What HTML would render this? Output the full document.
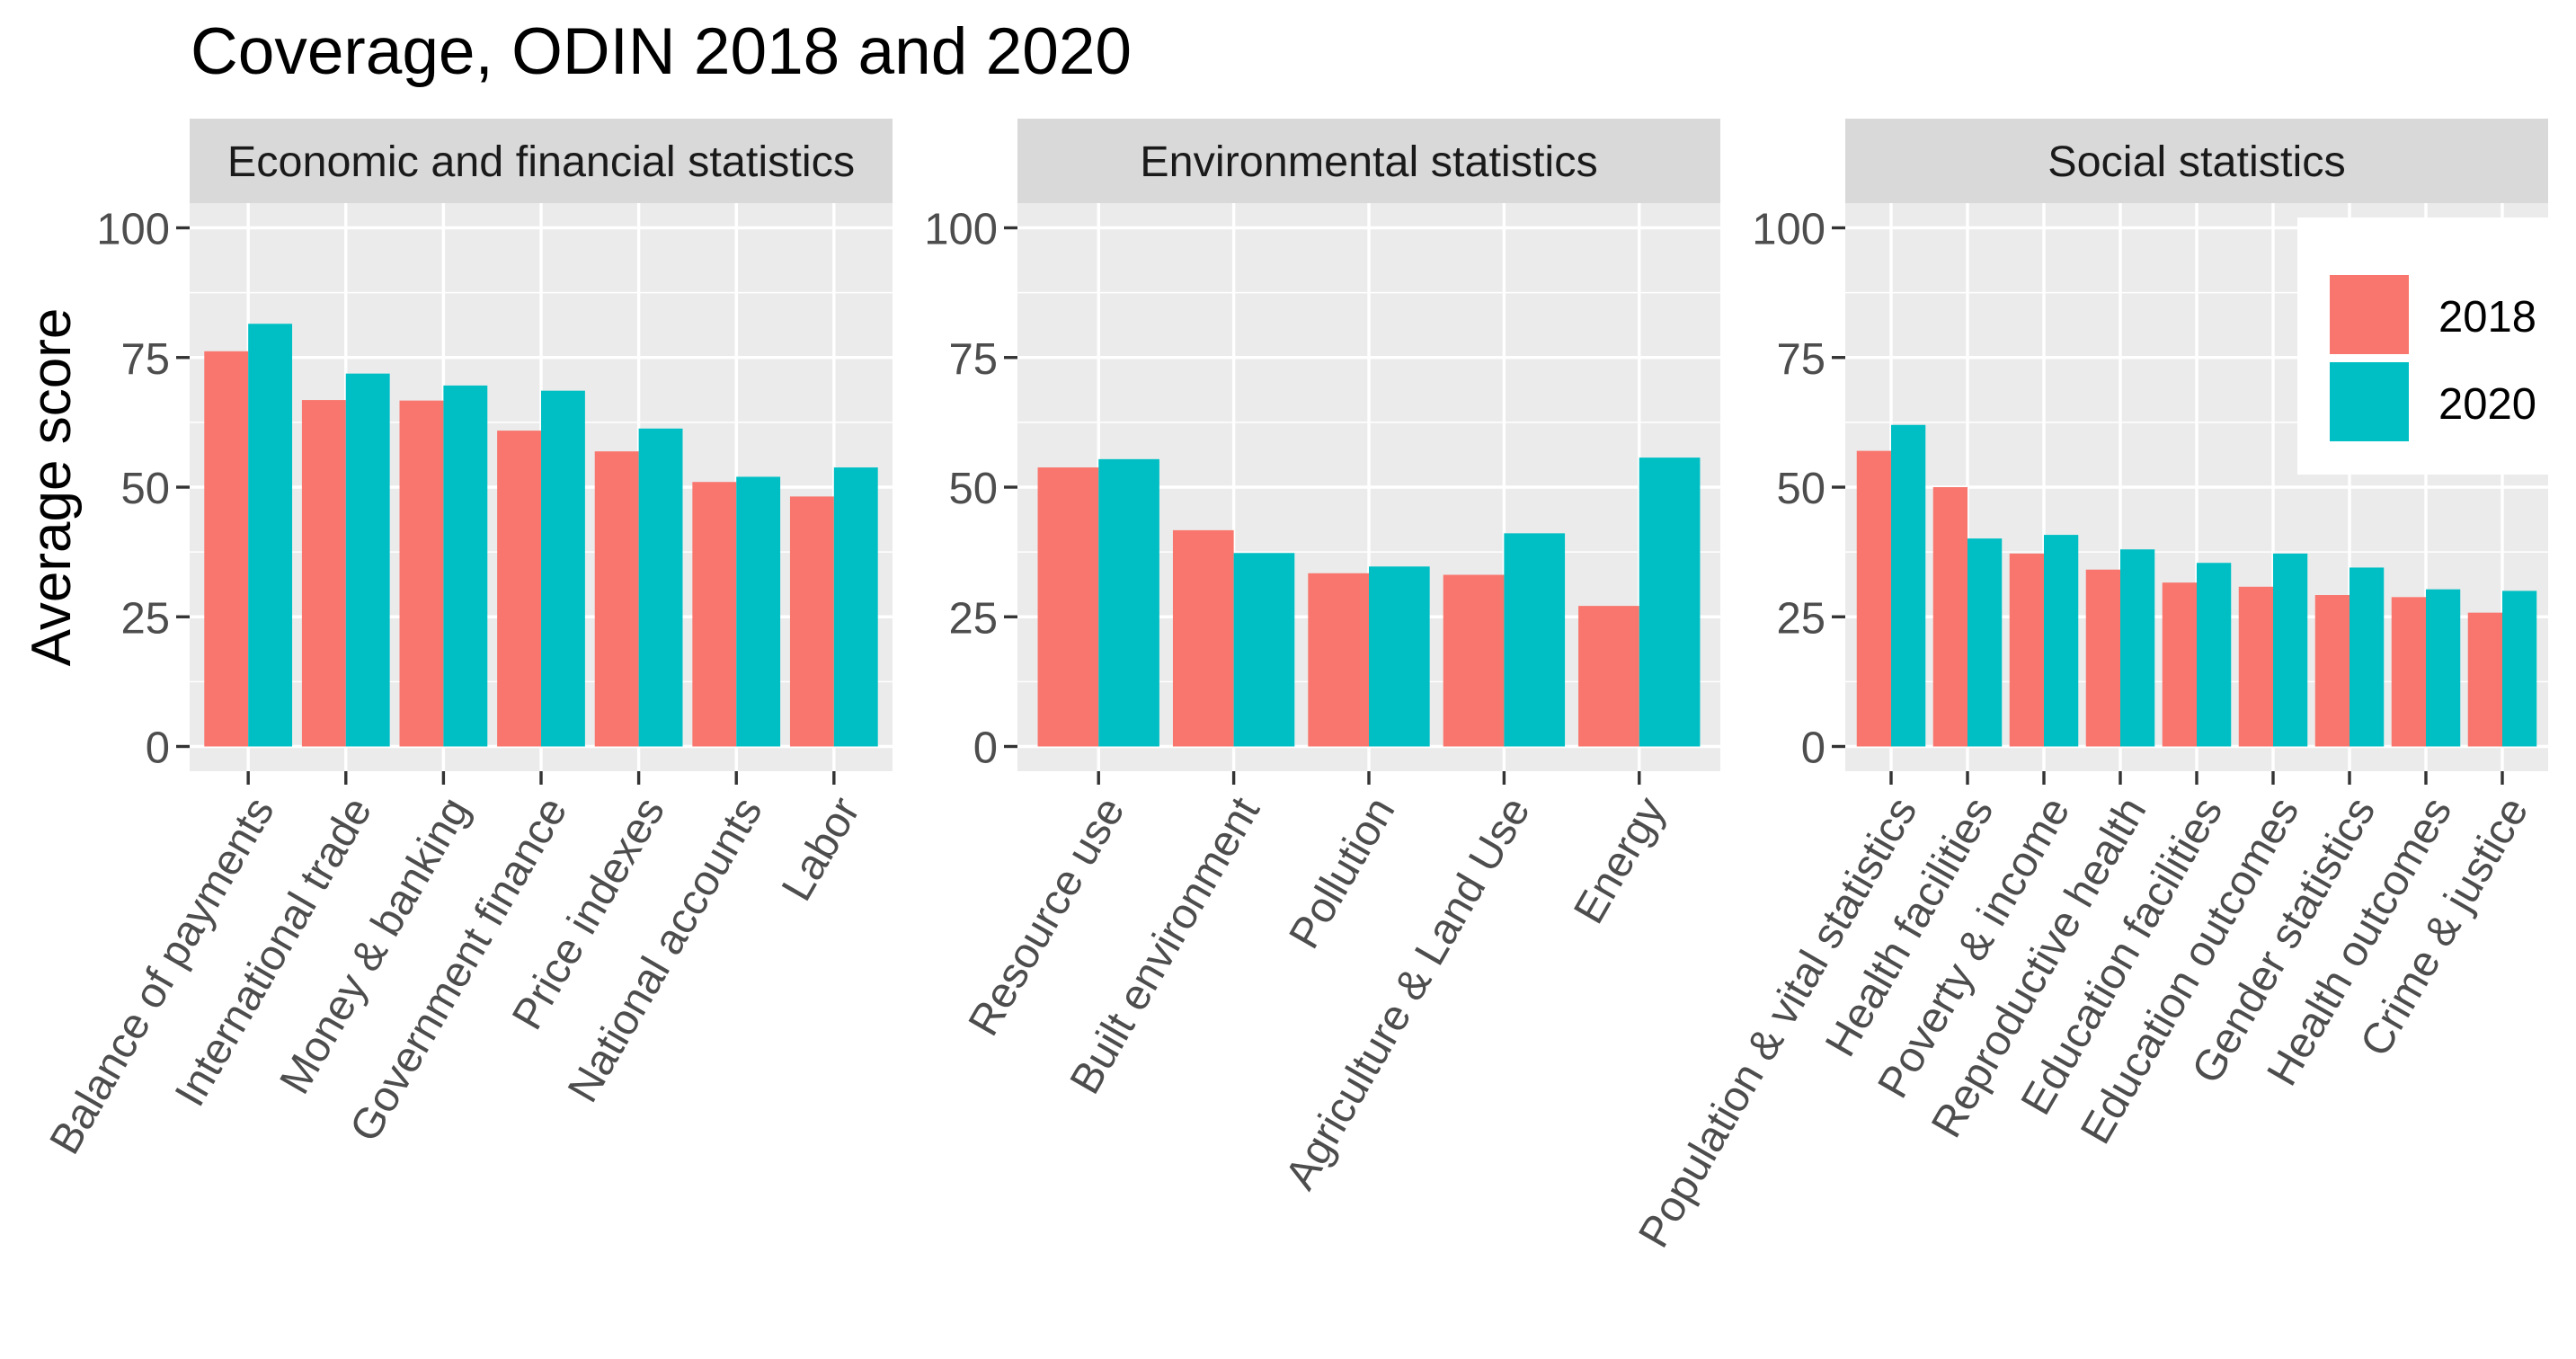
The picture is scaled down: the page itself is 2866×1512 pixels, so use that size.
<!DOCTYPE html>
<html><head><meta charset="utf-8"><style>
html,body{margin:0;padding:0;background:#fff;}
svg{display:block;font-family:"Liberation Sans",Arial,sans-serif;}
</style></head><body>
<svg id="chart" width="2866" height="1512" viewBox="0 0 2866 1512" xmlns="http://www.w3.org/2000/svg">
<text x="212" y="82" font-size="73" fill="#000">Coverage, ODIN 2018 and 2020</text>
<text transform="translate(78,542) rotate(-90)" text-anchor="middle" font-size="62" fill="#000">Average score</text>
<g id="panels"></g>
<g>
<rect x="2556" y="242" width="296" height="286" fill="#fff"/>
<rect x="2592" y="306" width="88" height="88" fill="#F8766D"/>
<rect x="2592" y="403" width="88" height="88" fill="#00BFC4"/>
<text x="2713" y="369" font-size="49" fill="#000">2018</text>
<text x="2713" y="466" font-size="49" fill="#000">2020</text>
</g>
</svg>
<script>
const panelTitles = ["Economic and financial statistics","Environmental statistics","Social statistics"];
const cats1 = ["Balance of payments","International trade","Money & banking","Government finance","Price indexes","National accounts","Labor"];
const v2018_1 = [76.2,66.8,66.7,60.9,56.9,51.0,48.2];
const v2020_1 = [81.5,71.9,69.6,68.6,61.3,52.0,53.8];
const cats2 = ["Resource use","Built environment","Pollution","Agriculture & Land Use","Energy"];
const v2018_2 = [53.8,41.7,33.4,33.1,27.1];
const v2020_2 = [55.4,37.3,34.7,41.1,55.7];
const cats3 = ["Population & vital statistics","Health facilities","Poverty & income","Reproductive health","Education facilities","Education outcomes","Gender statistics","Health outcomes","Crime & justice"];
const v2018_3 = [57.0,50.0,37.2,34.1,31.6,30.8,29.2,28.8,25.8];
const v2020_3 = [62.0,40.1,40.8,38.0,35.4,37.2,34.5,30.3,30.0];
const yTicks = [0,25,50,75,100];

const NS="http://www.w3.org/2000/svg";
const root=document.getElementById('panels');
const panelLefts=[211,1132,2053], PW=782, stripTop=132, stripBot=226, pTop=226, pBot=858;
const y0=830.5, y100=253.5;
function yS(v){return y0+(y100-y0)*v/100;}
function mk(tag,attrs,parent){const e=document.createElementNS(NS,tag);for(const k in attrs)e.setAttribute(k,attrs[k]);parent.appendChild(e);return e;}
const data=[[cats1,v2018_1,v2020_1],[cats2,v2018_2,v2020_2],[cats3,v2018_3,v2020_3]];
data.forEach((d,pi)=>{
  const [cats,a,b]=d; const L=panelLefts[pi]; const n=cats.length; const u=PW/(n+0.2);
  const xS=i=>L+(i+0.6)*u;
  const g=mk('g',{},root);
  
  
  const bg=mk('rect',{x:L,y:pTop,width:PW,height:pBot-pTop,fill:'#EBEBEB'},g);
  
  
  const st=mk('rect',{x:L,y:stripTop,width:PW,height:stripBot-stripTop,fill:'#D9D9D9'},g);
  
  
  const stt=mk('text',{x:L+PW/2,y:(stripTop+stripBot)/2+17,'text-anchor':'middle','font-size':'48.5',fill:'#1A1A1A'},g);
  stt.textContent=panelTitles[pi];
  
  
  for(let k=0;k<yTicks.length-1;k++){const m=(yTicks[k]+yTicks[k+1])/2;
    mk('line',{x1:L,x2:L+PW,y1:yS(m),y2:yS(m),stroke:'#fff','stroke-width':'1.6'},g);}
  yTicks.forEach(t=>{
    mk('line',{x1:L,x2:L+PW,y1:yS(t),y2:yS(t),stroke:'#fff','stroke-width':'3.4'},g);
    mk('line',{x1:L-15,x2:L,y1:yS(t),y2:yS(t),stroke:'#333','stroke-width':'3.4'},g);
    const tl=mk('text',{x:L-22,y:yS(t)+18,'text-anchor':'end','font-size':'49',fill:'#4D4D4D'},g);
    tl.textContent=t;
    
    
  });
  cats.forEach((c,i)=>{
    const x=xS(i);
    mk('line',{x1:x,x2:x,y1:pTop,y2:pBot,stroke:'#fff','stroke-width':'3.4'},g);
  });
  cats.forEach((c,i)=>{
    const x=xS(i), bw=0.45*u;
    const r1=mk('rect',{x:x-bw,y:yS(a[i]),width:bw,height:yS(0)-yS(a[i]),fill:'#F8766D'},g);
    
    
    const r2=mk('rect',{x:x,y:yS(b[i]),width:bw,height:yS(0)-yS(b[i]),fill:'#00BFC4'},g);
    
    
    mk('line',{x1:x,x2:x,y1:pBot,y2:pBot+15,stroke:'#333','stroke-width':'3.4'},g);
    const t=mk('text',{transform:`translate(${x},${pBot+24}) rotate(-60)`,'text-anchor':'end','font-size':'48','fill':'#4D4D4D',dy:'0.72em'},g);
    t.textContent=c;
    
    
  });
});
</script>
</body></html>
